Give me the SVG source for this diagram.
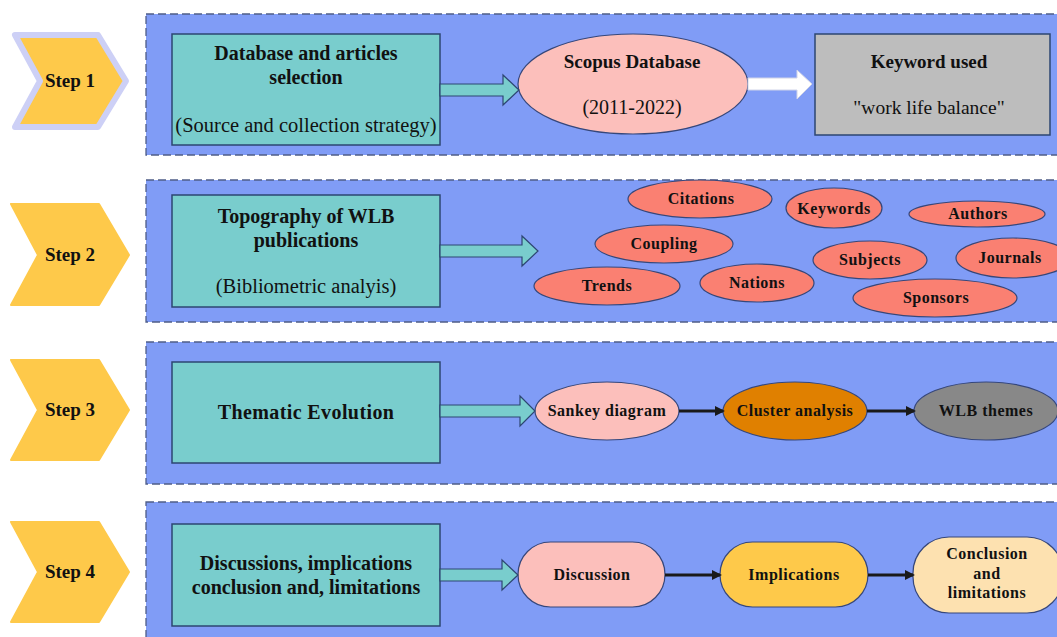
<svg xmlns="http://www.w3.org/2000/svg" width="1057" height="637" viewBox="0 0 1057 637">
<defs>
<style>
.panel{fill:#809cf6;stroke:#4f5d88;stroke-width:1.3;stroke-dasharray:8 4}
.step{fill:#fec94a}
.box{fill:#79cdcd;stroke:#2d4672;stroke-width:1.5}
.ell{stroke:#36477a;stroke-width:1.2}
.salmon{fill:#fa8072}
.pink{fill:#fcbfbb}
.t{font-family:"Liberation Serif","Times New Roman",serif;fill:#111;text-anchor:middle}
.b{font-weight:bold}
.st{font-size:19px;font-weight:bold}
.bt{font-size:20px}
.rt{font-size:20.5px}
.et{font-size:16px;font-weight:bold;letter-spacing:0.5px}
.tarrow{fill:#79cdcd;stroke:#2d4672;stroke-width:1.2}
.black{stroke:#1a1a1a;stroke-width:3;fill:none;marker-end:url(#ah)}
</style>
<marker id="ah" markerWidth="10" markerHeight="10" refX="8" refY="5" orient="auto" markerUnits="userSpaceOnUse" viewBox="0 0 10 10">
<path d="M0,0 L10,5 L0,10 Z" fill="#1a1a1a"/>
</marker>
</defs>
<rect width="1057" height="637" fill="#ffffff"/>

<g id="panels">
<rect class="panel" x="146" y="14" width="920" height="141"/>
<rect class="panel" x="146" y="180" width="920" height="142"/>
<rect class="panel" x="146" y="342" width="920" height="142"/>
<rect class="panel" x="146" y="502" width="920" height="150"/>
</g>

<g id="step1">
<path d="M15,35 L98,35 L126,81 L98,127 L15,127 L40,81 Z" fill="#fec94a" stroke="#cdd0f6" stroke-width="6" stroke-linejoin="round"/>
<text class="t st" x="70" y="87">Step 1</text>
</g>
<g id="step2">
<path class="step" d="M11,204 L99,204 L129,255 L99,305 L11,305 L38,255 Z" stroke="#fec94a" stroke-width="2" stroke-linejoin="round"/>
<text class="t st" x="70" y="261">Step 2</text>
</g>
<g id="step3">
<path class="step" d="M11,360 L99,360 L129,410 L99,460 L11,460 L38,410 Z" stroke="#fec94a" stroke-width="2" stroke-linejoin="round"/>
<text class="t st" x="70" y="416">Step 3</text>
</g>
<g id="step4">
<path class="step" d="M11,522 L99,522 L129,572 L99,622 L11,622 L38,572 Z" stroke="#fec94a" stroke-width="2" stroke-linejoin="round"/>
<text class="t st" x="70" y="578">Step 4</text>
</g>

<g id="box1">
<rect class="box" x="172" y="34" width="268" height="111"/>
<text class="t b bt" x="306" y="60">Database and articles</text>
<text class="t b bt" x="306" y="84">selection</text>
<text class="t rt" x="306" y="132">(Source and collection strategy)</text>
</g>
<g id="scopus">
<ellipse class="ell pink" cx="633" cy="84" rx="115" ry="50"/>
<text class="t b" font-size="19" x="632" y="68">Scopus Database</text>
<text class="t" font-size="20" x="632" y="114">(2011-2022)</text>
</g>
<g id="keyword">
<rect x="815" y="34" width="235" height="101" fill="#bdbdbd" stroke="#2d4672" stroke-width="1.5"/>
<text class="t b" font-size="19" x="929" y="68">Keyword used</text>
<text class="t" font-size="19.5" x="929" y="114">"work life balance"</text>
</g>

<g id="box2">
<rect class="box" x="172" y="195" width="268" height="112"/>
<text class="t b bt" x="306" y="223">Topography of WLB</text>
<text class="t b bt" x="306" y="247">publications</text>
<text class="t rt" x="306" y="293">(Bibliometric analyis)</text>
</g>
<g id="citations"><ellipse class="ell salmon" cx="700" cy="199" rx="72" ry="19"/><text class="t et" x="701" y="204">Citations</text></g>
<g id="keywords"><ellipse class="ell salmon" cx="834" cy="208" rx="48" ry="20"/><text class="t et" x="834" y="214">Keywords</text></g>
<g id="authors"><ellipse class="ell salmon" cx="977" cy="214" rx="68" ry="13"/><text class="t et" x="978" y="219">Authors</text></g>
<g id="coupling"><ellipse class="ell salmon" cx="664" cy="244" rx="69" ry="19"/><text class="t et" x="664" y="249">Coupling</text></g>
<g id="subjects"><ellipse class="ell salmon" cx="870" cy="260" rx="57" ry="19"/><text class="t et" x="870" y="265">Subjects</text></g>
<g id="journals"><ellipse class="ell salmon" cx="1013" cy="258" rx="57" ry="20"/><text class="t et" x="1010" y="263">Journals</text></g>
<g id="trends"><ellipse class="ell salmon" cx="607" cy="286" rx="73" ry="19"/><text class="t et" x="607" y="291">Trends</text></g>
<g id="nations"><ellipse class="ell salmon" cx="757" cy="283" rx="57" ry="19"/><text class="t et" x="757" y="288">Nations</text></g>
<g id="sponsors"><ellipse class="ell salmon" cx="935" cy="298" rx="82" ry="19"/><text class="t et" x="936" y="303">Sponsors</text></g>

<g id="box3">
<rect class="box" x="172" y="362" width="268" height="101"/>
<text class="t b bt" x="306" y="419" letter-spacing="0.4">Thematic Evolution</text>
</g>
<g id="sankey"><ellipse class="ell pink" cx="607" cy="411" rx="72" ry="29"/><text class="t et" x="607" y="416">Sankey diagram</text></g>
<g id="cluster"><ellipse class="ell" fill="#e08000" cx="795" cy="411" rx="72" ry="29"/><text class="t et" x="795" y="416">Cluster analysis</text></g>
<g id="wlbthemes"><ellipse class="ell" fill="#888888" cx="986" cy="411" rx="72" ry="29"/><text class="t et" x="986" y="416">WLB themes</text></g>

<g id="box4">
<rect class="box" x="172" y="524" width="268" height="102"/>
<text class="t b bt" x="306" y="570">Discussions, implications</text>
<text class="t b bt" x="306" y="594">conclusion and, limitations</text>
</g>
<g id="discussion"><rect class="ell pink" x="518" y="542" width="147" height="65" rx="32.5"/><text class="t et" x="592" y="580">Discussion</text></g>
<g id="implications"><rect class="ell" fill="#fec94a" x="720" y="542" width="148" height="65" rx="32.5"/><text class="t et" x="794" y="580">Implications</text></g>
<g id="conclusion"><rect class="ell" fill="#fde1b0" x="913" y="537" width="150" height="76" rx="36"/>
<text class="t et" x="987" y="559">Conclusion</text>
<text class="t et" x="987" y="579">and</text>
<text class="t et" x="987" y="598">limitations</text></g>

<g id="connectors">
<path class="tarrow" d="M440,84 L503,84 L503,75 L519,90 L503,105 L503,96 L440,96 Z"/>
<path d="M748,78 L797,78 L797,70 L812,84 L797,99 L797,90 L748,90 Z" fill="#ffffff" stroke="#d0d4e8" stroke-width="1"/>
<path class="tarrow" d="M440,245 L522,245 L522,236 L538,251 L522,266 L522,257 L440,257 Z"/>
<path class="tarrow" d="M440,405 L520,405 L520,396 L535,411 L520,426 L520,417 L440,417 Z"/>
<path class="tarrow" d="M440,569 L502,569 L502,560 L518,575 L502,590 L502,581 L440,581 Z"/>
<line class="black" x1="679" y1="411" x2="723" y2="411"/>
<line class="black" x1="867" y1="411" x2="914" y2="411"/>
<line class="black" x1="665" y1="575" x2="720" y2="575"/>
<line class="black" x1="868" y1="575" x2="913" y2="575"/>
</g>
</svg>
